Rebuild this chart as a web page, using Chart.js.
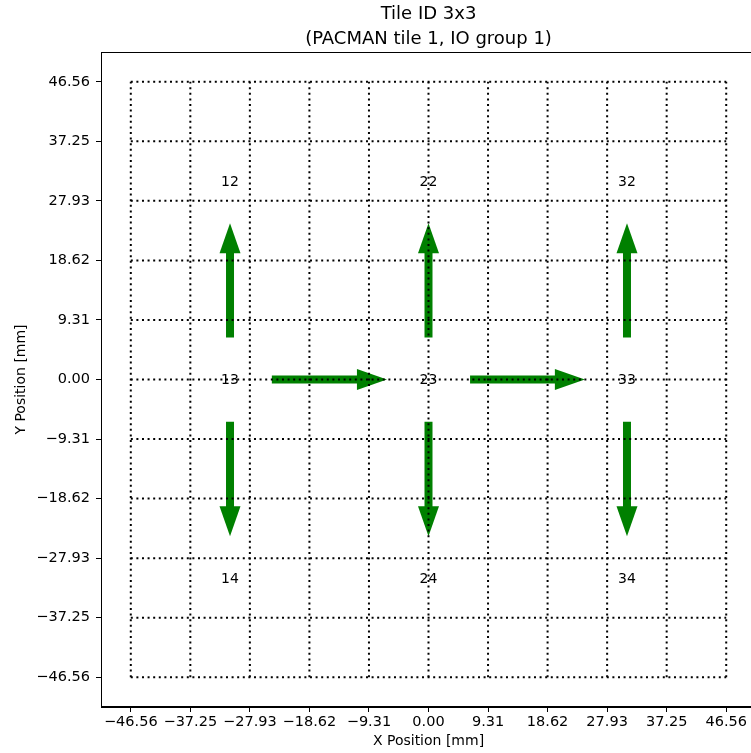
<!DOCTYPE html>
<html><head><meta charset="utf-8">
<script src="https://cdn.jsdelivr.net/npm/chart.js@4/dist/chart.umd.min.js"></script>
<style>html,body{margin:0;padding:0;overflow:hidden;background:#fff}canvas{display:block}</style>
</head><body>
<canvas id="c" width="790" height="753"></canvas>
<script>
// ---- data ----
const tickValues = [-46.5575, -37.246, -27.9345, -18.623, -9.3115, 0, 9.3115, 18.623, 27.9345, 37.246, 46.5575];
const tickLabels = ['−46.56', '−37.25', '−27.93', '−18.62', '−9.31', '0.00', '9.31', '18.62', '27.93', '37.25', '46.56'];
const boundaryValues = [-46.5575, -37.246, -27.9345, -18.623, -9.3115, 0, 9.3115, 18.623, 27.9345, 37.246, 46.5575];
const boundaryMin = -46.5575, boundaryMax = 46.5575;
const axisMin = -51.2158, axisMax = 51.2158;
const padNames = ['12', '22', '32', '13', '23', '33', '14', '24', '34'];
const padX = [-31.04, 0, 31.04, -31.04, 0, 31.04, -31.04, 0, 31.04];
const padY = [31.04, 31.04, 31.04, 0, 0, 0, -31.04, -31.04, -31.04];
const arrowTailX = [-31.04, -31.04, -24.5, 0, 0, 6.5, 31.04, 31.04];
const arrowTailY = [6.55, -6.6, 0, 6.55, -6.6, 0, 6.55, -6.6];
const arrowTipX = [-31.04, -31.04, -6.5, 0, 0, 24.45, 31.04, 31.04];
const arrowTipY = [24.45, -24.5, 0, 24.45, -24.5, 0, 24.45, -24.5];
const titleLines = ['Tile ID 3x3', '(PACMAN tile 1, IO group 1)'];
const xTitle = 'X Position [mm]';
const yTitle = 'Y Position [mm]';

// ---- styles ----
const GREEN = '#008000';
const FONT = '"DejaVu Sans", sans-serif';
const HEAD_LEN = 30, HEAD_HALF = 10.5, SHAFT_W = 8;
const SHAFT_BACK = 3; // shaft stops inside the head (data units)

const datasets = [];
boundaryValues.forEach(v => {
  datasets.push({ kind: 'grid', data: [{x: v, y: boundaryMin}, {x: v, y: boundaryMax}] });
  datasets.push({ kind: 'grid', data: [{x: boundaryMin, y: v}, {x: boundaryMax, y: v}] });
});
datasets.forEach(d => Object.assign(d, {
  borderColor: '#000', borderWidth: 2, borderDash: [2, 3.6], borderCapStyle: 'butt',
  pointRadius: 0, showLine: true, fill: false
}));
arrowTailX.forEach((_, i) => {
  const dx = arrowTipX[i] - arrowTailX[i], dy = arrowTipY[i] - arrowTailY[i];
  const L = Math.hypot(dx, dy);
  datasets.push({
    kind: 'arrow', idx: i,
    data: [{x: arrowTailX[i], y: arrowTailY[i]},
           {x: arrowTipX[i] - dx / L * SHAFT_BACK, y: arrowTipY[i] - dy / L * SHAFT_BACK}],
    borderColor: GREEN, borderWidth: SHAFT_W, borderCapStyle: 'butt',
    pointRadius: 0, showLine: true, fill: false
  });
});

const arrowHeads = {
  id: 'arrowHeads',
  afterDatasetDraw(chart, args) {
    const ds = chart.data.datasets[args.index];
    if (ds.kind !== 'arrow') return;
    const i = ds.idx, xs = chart.scales.x, ys = chart.scales.y;
    const tx = xs.getPixelForValue(arrowTipX[i]), ty = ys.getPixelForValue(arrowTipY[i]);
    const sx = xs.getPixelForValue(arrowTailX[i]), sy = ys.getPixelForValue(arrowTailY[i]);
    const L = Math.hypot(tx - sx, ty - sy), ux = (tx - sx) / L, uy = (ty - sy) / L;
    const bx = tx - ux * HEAD_LEN, by = ty - uy * HEAD_LEN;
    const ctx = chart.ctx;
    ctx.save();
    ctx.fillStyle = GREEN;
    ctx.beginPath();
    ctx.moveTo(tx, ty);
    ctx.lineTo(bx - uy * HEAD_HALF, by + ux * HEAD_HALF);
    ctx.lineTo(bx + uy * HEAD_HALF, by - ux * HEAD_HALF);
    ctx.closePath();
    ctx.fill();
    ctx.restore();
  },
  afterDatasetsDraw(chart) {
    const ctx = chart.ctx, xs = chart.scales.x, ys = chart.scales.y;
    ctx.save();
    ctx.fillStyle = '#000';
    ctx.font = '14px ' + FONT;
    ctx.textAlign = 'center';
    ctx.textBaseline = 'middle';
    padNames.forEach((t, i) => ctx.fillText(t, xs.getPixelForValue(padX[i]), ys.getPixelForValue(padY[i]) + 1));
    const a = chart.chartArea;
    ctx.strokeStyle = '#000';
    ctx.lineWidth = 1;
    ctx.strokeRect(a.left + 0.5, a.top + 0.5, a.right - a.left - 1, a.bottom - a.top - 1);
    ctx.restore();
  }
};

const axisCommon = (titleText, titlePad) => ({
  type: 'linear', min: axisMin, max: axisMax,
  afterBuildTicks: s => { s.ticks = tickValues.map(v => ({value: v})); },
  ticks: {
    autoSkip: false, maxRotation: 0, color: '#000', font: {family: FONT, size: 14.5},
    callback: (v, i) => tickLabels[i]
  },
  grid: { display: true, drawOnChartArea: false, drawTicks: true, tickLength: 5, tickColor: '#000', tickWidth: 1 },
  border: { display: true, color: '#000', width: 1 },
  title: { display: true, text: titleText, color: '#000', font: {family: FONT, size: 14}, padding: titlePad }
});

const xAxis = axisCommon(xTitle, {top: 0, bottom: 3});
xAxis.position = 'bottom';
xAxis.ticks.padding = 2;
xAxis.afterFit = s => { s.height = 46; };
const yAxis = axisCommon(yTitle, {top: 13, bottom: 0});
yAxis.position = 'left';
yAxis.ticks.padding = 6;
yAxis.afterFit = s => { s.width = 101; };

new Chart(document.getElementById('c'), {
  type: 'scatter',
  data: { datasets },
  plugins: [arrowHeads],
  options: {
    responsive: false, animation: false, devicePixelRatio: 1,
    layout: { padding: {left: 0, right: 34, top: 0, bottom: 0} },
    scales: { x: xAxis, y: yAxis },
    plugins: {
      legend: { display: false },
      tooltip: { enabled: false },
      title: {
        display: true, text: titleLines, fullSize: false, color: '#000',
        font: {family: FONT, size: 18, weight: 'normal', lineHeight: '24.5px'},
        padding: {top: 2.25, bottom: 0.75}
      }
    }
  }
});
</script>
</body></html>
